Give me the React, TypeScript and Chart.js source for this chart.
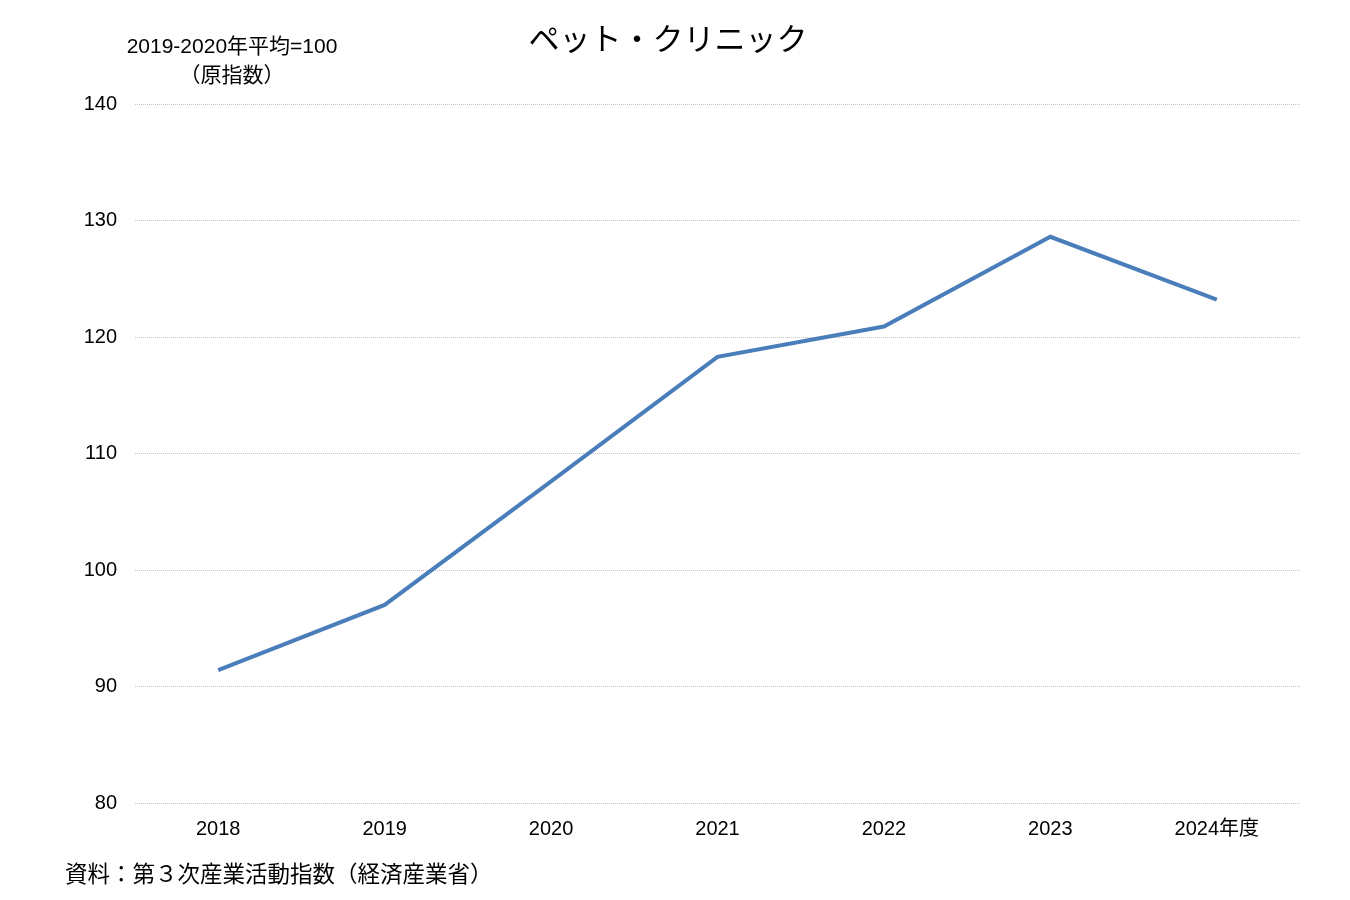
import React, { useEffect, useRef } from "react";
import { Chart, registerables } from "chart.js";

Chart.register(...registerables);

const categories = ["2018", "2019", "2020", "2021", "2022", "2023", "2024年度"];
const petClinicIndex = [91.4, 97.0, 107.6, 118.3, 120.9, 128.6, 123.2];
const yTicks = { min: 80, max: 140, step: 10 };

const titleText = "ペット・クリニック";
const unitLines = ["2019-2020年平均=100", "（原指数）"];
const sourceText = "資料：第３次産業活動指数（経済産業省）";

const FONT = '"Liberation Sans", "Noto Sans CJK JP", sans-serif';
const CJK = '"Noto Sans CJK JP", "Liberation Sans", sans-serif';

const textPlugin = {
  id: "textPlugin",
  afterDraw(chart: any) {
    const ctx = chart.ctx;
    ctx.save();
    ctx.fillStyle = "#000";
    ctx.textBaseline = "middle";
    ctx.textAlign = "center";
    ctx.font = `31px ${CJK}`;
    ctx.fillText(titleText, 668, 38);
    ctx.font = `21px ${FONT}`;
    ctx.fillText(unitLines[0], 232, 47);
    ctx.fillText(unitLines[1], 232, 76);
    ctx.textAlign = "left";
    ctx.font = `22.5px ${CJK}`;
    ctx.fillText(sourceText, 65, 873);
    ctx.restore();
  },
};

export default function App() {
  const ref = useRef<HTMLCanvasElement | null>(null);
  useEffect(() => {
    if (!ref.current) return;
    const chart = new Chart(ref.current, {
      type: "line",
      data: {
        labels: categories,
        datasets: [
          {
            data: petClinicIndex,
            borderColor: "#4a7ebb",
            backgroundColor: "#4a7ebb",
            borderWidth: 4,
            pointRadius: 0,
            tension: 0,
          },
        ],
      },
      options: {
        responsive: false,
        animation: false,
        layout: { padding: { left: 0, top: 104, right: 50, bottom: 52 } },
        plugins: {
          legend: { display: false },
          title: { display: false },
          tooltip: { enabled: false },
        },
        scales: {
          x: {
            offset: true,
            grid: { display: false, drawTicks: false },
            border: { display: false },
            ticks: { color: "#000", font: { family: FONT, size: 20 }, padding: 14, maxRotation: 0 },
            afterFit: (s: any) => {
              s.height = 45;
            },
          },
          y: {
            min: yTicks.min,
            max: yTicks.max,
            grid: { color: "#c4c4c4", lineWidth: 1, drawTicks: false },
            border: { display: false, dash: [1, 1] },
            ticks: {
              stepSize: yTicks.step,
              color: "#000",
              font: { family: FONT, size: 20 },
              padding: 18,
            },
            afterFit: (s: any) => {
              s.width = 135;
            },
          },
        },
      },
      plugins: [textPlugin],
    });
    return () => chart.destroy();
  }, []);
  return (
    <div style={{ position: "absolute", left: 0, top: 0, width: 1350, height: 900, background: "#fff" }}>
      <canvas ref={ref} width={1350} height={900} />
    </div>
  );
}
